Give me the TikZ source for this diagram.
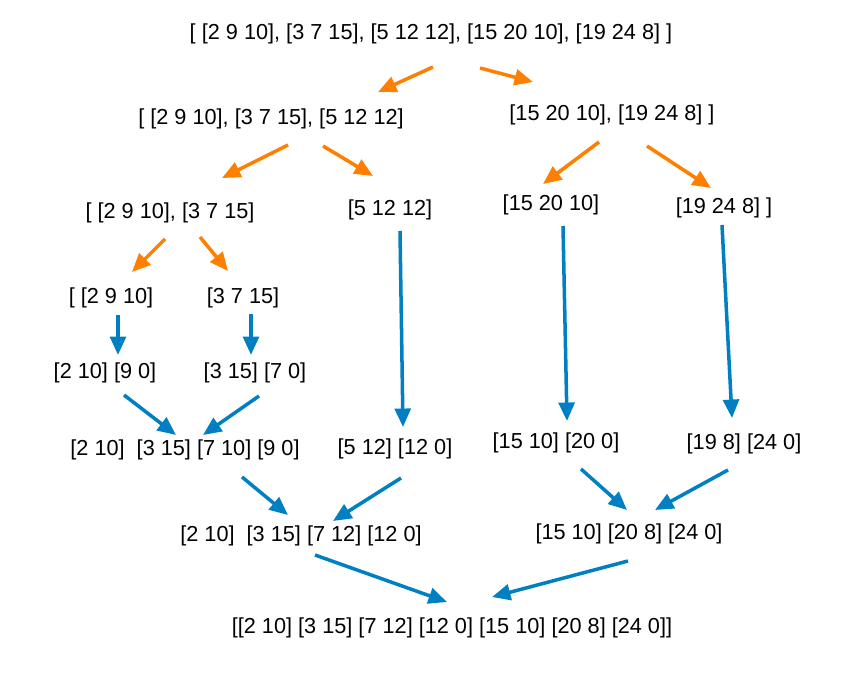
\documentclass[tikz,border=0pt]{standalone}
\usepackage{fontspec}
\setmainfont{Liberation Sans}
\usepackage{tikz}
\usetikzlibrary{arrows.meta}
\definecolor{splitorange}{RGB}{255,128,0}
\definecolor{mergeblue}{RGB}{0,128,194}

\begin{document}
\begin{tikzpicture}[x=0.02cm, y=-0.02cm,
    lbl/.style={inner sep=0pt, font=\fontsize{12.35}{14}\selectfont},
    split/.style={-{Triangle[length=10.5pt,width=9pt]}, line width=2pt, color=splitorange},
    merge/.style={-{Triangle[length=10.5pt,width=9pt]}, line width=2pt, color=mergeblue}
]
\useasboundingbox (0,0) rectangle (856,679);
\node[lbl] (top) at (431,34)  {[ [2 9 10], [3 7 15], [5 12 12], [15 20 10], [19 24 8] ]};
\node[lbl] (l1)  at (271,119) {[ [2 9 10], [3 7 15], [5 12 12]};
\node[lbl] (r1)  at (612,115) {[15 20 10], [19 24 8] ]};
\node[lbl] (l2a) at (170,213) {[ [2 9 10], [3 7 15]};
\node[lbl] (l2b) at (390,210) {[5 12 12]};
\node[lbl] (r2a) at (551,205) {[15 20 10]};
\node[lbl] (r2b) at (724,208) {[19 24 8] ]};
\node[lbl] (l3a) at (111,298) {[ [2 9 10]};
\node[lbl] (l3b) at (243,298) {[3 7 15]};
\node[lbl] (l4a) at (105,373) {[2 10] [9 0]};
\node[lbl] (l4b) at (255,373) {[3 15] [7 0]};
\node[lbl] (m5)  at (185,450) {[2 10] \ [3 15] [7 10] [9 0]};
\node[lbl] (n5)  at (395,449) {[5 12] [12 0]};
\node[lbl] (r5a) at (556,443) {[15 10] [20 0]};
\node[lbl] (r5b) at (744,444) {[19 8] [24 0]};
\node[lbl] (m6)  at (301,536) {[2 10] \ [3 15] [7 12] [12 0]};
\node[lbl] (r6)  at (629,534) {[15 10] [20 8] [24 0]};
\node[lbl] (fin) at (452,628) {[[2 10] [3 15] [7 12] [12 0] [15 10] [20 8] [24 0]]};

% dividing
\draw[split] ([shift={(2,33)}]top.center)   -- ([shift={(107,-27)}]l1.center);
\draw[split] ([shift={(49,34)}]top.center)  -- ([shift={(-79,-33)}]r1.center);
\draw[split] ([shift={(17,26)}]l1.center)   -- ([shift={(52,-35)}]l2a.center);
\draw[split] ([shift={(52,27)}]l1.center)   -- ([shift={(-17,-34)}]l2b.center);
\draw[split] ([shift={(-13,27)}]r1.center)  -- ([shift={(-8,-21)}]r2a.center);
\draw[split] ([shift={(35,31)}]r1.center)   -- ([shift={(-13,-20)}]r2b.center);
\draw[split] ([shift={(-5,26)}]l2a.center)  -- ([shift={(21,-26)}]l3a.center);
\draw[split] ([shift={(30,24)}]l2a.center)  -- ([shift={(-15,-27)}]l3b.center);

% merging
\draw[merge] ([shift={(7,17)}]l3a.center)   -- ([shift={(13,-18)}]l4a.center);
\draw[merge] ([shift={(8,16)}]l3b.center)   -- ([shift={(-4,-18)}]l4b.center);
\draw[merge] ([shift={(10,21)}]l2b.center)  -- ([shift={(8,-22)}]n5.center);
\draw[merge] ([shift={(12,21)}]r2a.center)  -- ([shift={(11,-22)}]r5a.center);
\draw[merge] ([shift={(-2,17)}]r2b.center)  -- ([shift={(-12,-26)}]r5b.center);
\draw[merge] ([shift={(19,22)}]l4a.center)  -- ([shift={(-9,-15)}]m5.center);
\draw[merge] ([shift={(4,23)}]l4b.center)   -- ([shift={(18,-15)}]m5.center);
\draw[merge] ([shift={(57,27)}]m5.center)   -- ([shift={(-13,-21)}]m6.center);
\draw[merge] ([shift={(6,29)}]n5.center)    -- ([shift={(32,-15)}]m6.center);
\draw[merge] ([shift={(25,26)}]r5a.center)  -- ([shift={(-2,-24)}]r6.center);
\draw[merge] ([shift={(-16,26)}]r5b.center) -- ([shift={(26,-24)}]r6.center);
\draw[merge] ([shift={(14,19)}]m6.center)   -- ([shift={(-5,-26)}]fin.center);
\draw[merge] ([shift={(-1,27)}]r6.center)   -- ([shift={(40,-31)}]fin.center);
\end{tikzpicture}
\end{document}
